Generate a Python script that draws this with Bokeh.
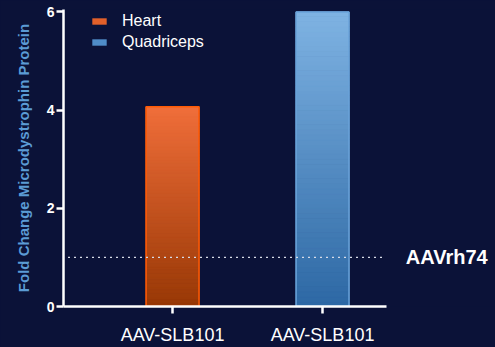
import numpy as np
from bokeh.plotting import figure
from bokeh.models import Range1d, FixedTicker, Legend, LegendItem
from bokeh.core.properties import value
from bokeh.embed import file_html
from bokeh.resources import INLINE

# ---- data ----
groups = ["Heart", "Quadriceps"]
x_labels = ["AAV-SLB101", "AAV-SLB101"]
fold_change = [4.07, 6.0]
reference_value = 1.0
reference_label = "AAVrh74"
y_ticks = [0, 2, 4, 6]
y_title = "Fold Change Microdystrophin Protein"

# ---- styles ----
BG = "#0b1238"
top_cols = ["#f06e3a", "#7fb3e3"]
bot_cols = ["#983805", "#2d68a4"]
line_cols = ["#ff5a05", "#6aa3da"]
legend_cols = ["#e2602a", "#4f8cc8"]
FONT = "Liberation Sans"

positions = [1, 2]
bar_w = 0.353
axis_lo, axis_hi = 0.273, 2.427

p = figure(width=495, height=347, output_backend="svg", toolbar_location=None,
           x_range=Range1d(axis_lo, 3.153), y_range=Range1d(0, 6.05),
           min_border_left=63, min_border_right=0, min_border_top=9, min_border_bottom=41)
p.background_fill_color = BG
p.border_fill_color = BG
p.outline_line_color = None
p.grid.visible = False
p.styles = {"background-color": BG}


def hex2rgb(h):
    h = h.lstrip("#")
    return np.array([int(h[i:i + 2], 16) for i in (0, 2, 4)], dtype=float)


def rgb2hex(c):
    return "#%02x%02x%02x" % tuple(int(round(v)) for v in c)


n = 60
legend_items = []
for i, (xpos, val) in enumerate(zip(positions, fold_change)):
    edges = np.linspace(0, val, n + 1)
    t = (edges[:-1] + edges[1:]) / 2 / val
    c0, c1 = hex2rgb(bot_cols[i]), hex2rgb(top_cols[i])
    cols = [rgb2hex(c0 + (c1 - c0) * tt) for tt in t]
    p.quad(left=xpos - bar_w / 2, right=xpos + bar_w / 2, bottom=edges[:-1], top=edges[1:],
           fill_color=cols, line_color=cols, line_width=1)
    p.vbar(x=[xpos], width=bar_w, top=[val], bottom=0, fill_color=None,
           line_color=line_cols[i], line_width=1.5)
    dummy = p.vbar(x=[xpos], width=bar_w, top=[val], bottom=0, fill_color=legend_cols[i],
                   line_color=None, visible=False)
    legend_items.append(LegendItem(label=groups[i], renderers=[dummy]))

# reference line + label
p.segment(x0=[axis_lo + 0.03], x1=[axis_hi - 0.01], y0=[reference_value], y1=[reference_value],
          line_color="#d8dce8", line_width=1.3, line_dash="2 4")
p.text(x=[axis_hi + 0.128], y=[reference_value], text=[reference_label],
       text_color="white", text_font=value(FONT), text_font_size="20px",
       text_font_style="bold", text_baseline="middle", text_align="left")

legend = Legend(items=legend_items, location=(27, 254), orientation="vertical",
                background_fill_alpha=0, border_line_color=None,
                glyph_width=18, glyph_height=8, label_height=21, label_standoff=14,
                label_text_color="white", label_text_font=FONT, label_text_font_size="16px",
                padding=0, margin=0, spacing=0)
p.add_layout(legend)

# axes
for ax in (p.xaxis, p.yaxis):
    ax.axis_line_color = "white"
    ax.axis_line_width = 2.5
    ax.major_tick_line_color = "white"
    ax.major_tick_line_width = 2.5
    ax.major_tick_out = 7
    ax.major_tick_in = 0
    ax.minor_tick_line_color = None
    ax.major_label_text_color = "white"
    ax.major_label_text_font = FONT

p.xaxis.bounds = (axis_lo, axis_hi)
p.xaxis.ticker = FixedTicker(ticks=positions)
p.xaxis.major_label_overrides = {pos: lab for pos, lab in zip(positions, x_labels)}
p.xaxis.major_label_text_font_size = "18px"
p.xaxis.major_label_standoff = 11

p.yaxis.ticker = FixedTicker(ticks=y_ticks)
p.yaxis.major_label_text_font_size = "14px"
p.yaxis.major_label_text_font_style = "bold"
p.yaxis.major_label_standoff = 2
p.yaxis.axis_label = y_title
p.yaxis.axis_label_text_color = "#5b9bd5"
p.yaxis.axis_label_text_font = FONT
p.yaxis.axis_label_text_font_size = "15px"
p.yaxis.axis_label_text_font_style = "bold"
p.yaxis.axis_label_standoff = 12

open("out.html", "w").write(file_html(p, INLINE))
